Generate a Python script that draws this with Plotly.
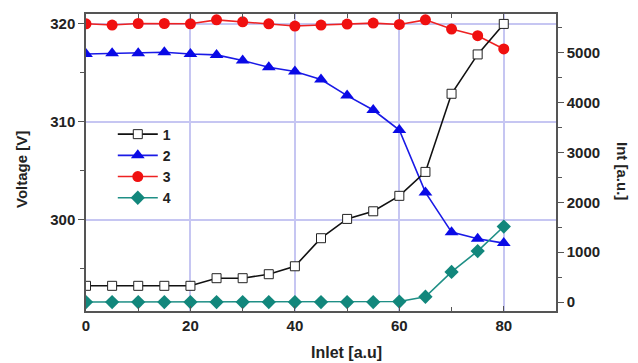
import plotly.graph_objects as go

# ---- data ----
inlet = [0, 5, 10, 15, 20, 25, 30, 35, 40, 45, 50, 55, 60, 65, 70, 75, 80]
series1_int = [325, 325, 325, 325, 325, 478, 478, 558, 717, 1280, 1667, 1820, 2130, 2610, 4177, 4966, 5578]
series2_volt = [316.92, 316.98, 316.98, 317.09, 316.92, 316.82, 316.24, 315.56, 315.13, 314.31,
                312.66, 311.19, 309.14, 302.77, 298.71, 298.04, 297.59]
series3_volt = [320.0, 319.87, 320.03, 320.03, 320.0, 320.4, 320.2, 320.0, 319.77, 319.87,
                319.97, 320.07, 319.93, 320.4, 319.46, 318.78, 317.43]
series4_int = [0, 0, 0, 0, 0, 0, 0, 0, 0, 0, 0, 0, 10, 106, 604, 1022, 1514]
names = ["1", "2", "3", "4"]
x_ticks = [0, 20, 40, 60, 80]
volt_ticks = [300, 310, 320]

FONT = "Liberation Sans"
tickfont = dict(family=FONT, size=15, color="#222222", weight="bold")
GRID = "#c6c6f2"
AXIS = "#555555"

fig = go.Figure()
fig.add_trace(go.Scatter(x=inlet, y=series1_int, name=names[0], yaxis="y2", mode="lines+markers",
                         line=dict(color="#111111", width=1.6),
                         marker=dict(symbol="square", size=9, color="white",
                                     line=dict(color="#222222", width=1))))
fig.add_trace(go.Scatter(x=inlet, y=series2_volt, name=names[1], yaxis="y", mode="lines+markers",
                         line=dict(color="#1a1ae6", width=1.6),
                         marker=dict(symbol="triangle-up", size=12, color="#0a0ae6")))
fig.add_trace(go.Scatter(x=inlet, y=series3_volt, name=names[2], yaxis="y", mode="lines+markers",
                         line=dict(color="#ee2222", width=1.6),
                         marker=dict(symbol="circle", size=11, color="#f01010")))
fig.add_trace(go.Scatter(x=inlet, y=series4_int, name=names[3], yaxis="y2", mode="lines+markers",
                         line=dict(color="#1f8f86", width=1.6),
                         marker=dict(symbol="diamond", size=11, color="#12877c")))

fig.update_layout(
    width=638, height=363,
    margin=dict(l=86, r=82, t=12, b=52),
    paper_bgcolor="white", plot_bgcolor="white",
    showlegend=True,
    legend=dict(x=0.057, y=0.648, xanchor="left", yanchor="top",
                font=dict(family=FONT, size=14, color="#222222", weight="bold"),
                bgcolor="rgba(0,0,0,0)", itemwidth=40, tracegroupgap=0),
    xaxis=dict(range=[0, 90], tickvals=x_ticks, ticks="inside", ticklen=5, tickcolor=AXIS,
               showline=True, linecolor=AXIS, linewidth=1.5, mirror="ticks",
               showgrid=True, gridcolor=GRID, gridwidth=1.5,
               zeroline=False, tickfont=tickfont,
               minor=dict(tickvals=[10, 30, 50, 70, 90], ticks="inside", ticklen=4,
                          tickcolor=AXIS, showgrid=False)),
    yaxis=dict(range=[290.65, 321.0], tickvals=volt_ticks, ticks="outside", ticklen=6, tickcolor=AXIS,
               showline=True, linecolor=AXIS, linewidth=1.5,
               showgrid=True, gridcolor=GRID, gridwidth=1.5,
               zeroline=False, tickfont=tickfont,
               minor=dict(dtick=5, tick0=0, ticks="outside", ticklen=4, tickcolor=AXIS, showgrid=False)),
    yaxis2=dict(range=[-180, 5777], overlaying="y", side="right", dtick=1000, tick0=0,
                ticks="outside", ticklen=6, tickcolor=AXIS,
                showline=True, linecolor=AXIS, linewidth=1.5,
                showgrid=False, zeroline=False, tickfont=tickfont,
                minor=dict(dtick=500, tick0=0, ticks="outside", ticklen=4, tickcolor=AXIS, showgrid=False)),
    annotations=[
        dict(text="Inlet [a.u]", xref="paper", yref="paper", x=0.555, y=-0.14,
             xanchor="center", yanchor="middle", showarrow=False,
             font=dict(family=FONT, size=16, color="#222222", weight="bold")),
        dict(text="Voltage [V]", xref="paper", yref="paper", x=-0.136, y=0.475,
             xanchor="center", yanchor="middle", showarrow=False, textangle=-90,
             font=dict(family=FONT, size=15, color="#222222", weight="bold")),
        dict(text="Int [a.u.]", xref="paper", yref="paper", x=1.14, y=0.472,
             xanchor="center", yanchor="middle", showarrow=False, textangle=90,
             font=dict(family=FONT, size=15, color="#222222", weight="bold")),
    ],
)

fig.write_html("out.html")
